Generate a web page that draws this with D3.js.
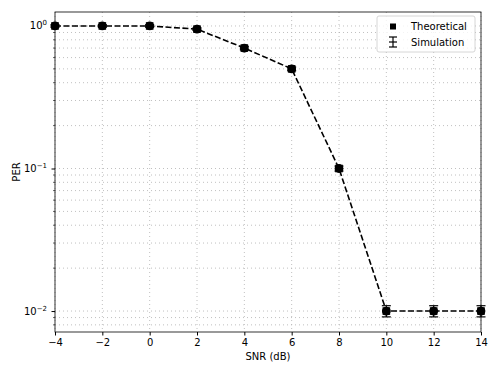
<!DOCTYPE html>
<html>
<head>
<meta charset="utf-8">
<script src="https://cdn.jsdelivr.net/npm/d3@7"></script>
<style>
  body { margin: 0; background: #fff; }
  svg { font-family: "DejaVu Sans", sans-serif; }
</style>
</head>
<body>
<div id="chart"></div>
<script>
// data
var snr = [-4, -2, 0, 2, 4, 6, 8, 10, 12, 14];
var theoretical = [1.0, 1.0, 1.0, 0.95, 0.70, 0.50, 0.10, 0.01, 0.01, 0.01];
var simulation = [1.0, 1.0, 1.0, 0.95, 0.70, 0.50, 0.10, 0.01, 0.01, 0.01];
var simErr = [0.02, 0.02, 0.02, 0.02, 0.02, 0.015, 0.004, 0.0009, 0.0009, 0.0009];
var xTicks = [-4, -2, 0, 2, 4, 6, 8, 10, 12, 14];
var yTicks = [1e-2, 1e-1, 1];
var yExp = { '0.01': '\u22122', '0.1': '\u22121', '1': '0' };

var W = 498, H = 374;
var m = { left: 55, right: 17, top: 12, bottom: 42 };

var svg = d3.select('#chart').append('svg')
    .attr('width', W)
    .attr('height', H);

var x = d3.scaleLinear()
    .domain([-4, 14])
    .range([m.left, W - m.right]);

var y = d3.scaleLog()
    .domain([Math.pow(10, -2.147), Math.pow(10, 0.098)])
    .range([H - m.bottom, m.top]);

// minor ticks for log axis
var minor = [];
[0.01, 0.1, 1].forEach(function (d) {
    for (var k = 2; k <= 9; k++) {
        var v = d * k;
        if (v >= y.domain()[0] && v <= y.domain()[1]) minor.push(v);
    }
});
[0.007, 0.008, 0.009].forEach(function (v) {
    if (v >= y.domain()[0]) minor.push(v);
});

var grid = svg.append('g').attr('stroke', '#b0b0b0').attr('stroke-width', 0.8)
    .attr('stroke-dasharray', '1,3');

grid.selectAll('.gy').data(yTicks.concat(minor)).enter()
    .append('line')
    .attr('x1', m.left).attr('x2', W - m.right)
    .attr('y1', function (d) { return y(d); })
    .attr('y2', function (d) { return y(d); });

grid.selectAll('.gx').data(xTicks).enter()
    .append('line')
    .attr('y1', m.top).attr('y2', H - m.bottom)
    .attr('x1', function (d) { return x(d); })
    .attr('x2', function (d) { return x(d); });

// axes
var xAxis = d3.axisBottom(x)
    .tickValues(xTicks)
    .tickSize(3.5)
    .tickPadding(3.5)
    .tickFormat(function (d) { return d < 0 ? '\u2212' + Math.abs(d) : d; });

svg.append('g')
    .attr('transform', 'translate(0,' + (H - m.bottom) + ')')
    .call(xAxis)
    .call(function (g) {
        g.select('.domain').remove();
        g.selectAll('text').attr('font-size', 10).attr('fill', '#000')
            .attr('font-family', '"DejaVu Sans", sans-serif');
    });

var yAxis = d3.axisLeft(y)
    .tickValues(yTicks)
    .tickSize(3.5)
    .tickPadding(3.5)
    .tickFormat('');

var yg = svg.append('g')
    .attr('transform', 'translate(' + m.left + ',0)')
    .call(yAxis)
    .call(function (g) { g.select('.domain').remove(); });

yg.selectAll('.minor').data(minor).enter()
    .append('line')
    .attr('x1', -2).attr('x2', 0)
    .attr('y1', function (d) { return y(d); })
    .attr('y2', function (d) { return y(d); })
    .attr('stroke', '#000').attr('stroke-width', 0.6);

var lbl = svg.append('g').selectAll('text').data(yTicks).enter()
    .append('text')
    .attr('x', m.left - 8)
    .attr('y', function (d) { return y(d) + 3.5; })
    .attr('text-anchor', 'end')
    .attr('font-size', 10);
lbl.append('tspan').text('10');
lbl.append('tspan').attr('dy', -4).attr('font-size', 7)
    .text(function (d) { return yExp[String(d)]; });

// frame
svg.append('rect')
    .attr('x', m.left).attr('y', m.top)
    .attr('width', W - m.left - m.right)
    .attr('height', H - m.top - m.bottom)
    .attr('fill', 'none')
    .attr('stroke', '#000').attr('stroke-width', 0.8);

// axis labels
svg.append('text')
    .attr('x', (m.left + W - m.right) / 2)
    .attr('y', H - 14)
    .attr('text-anchor', 'middle')
    .attr('font-size', 10)
    .text('SNR (dB)');

svg.append('text')
    .attr('transform', 'translate(20,' + ((m.top + H - m.bottom) / 2) + ') rotate(-90)')
    .attr('text-anchor', 'middle')
    .attr('font-size', 10)
    .text('PER');

// lines
var line = d3.line()
    .x(function (d) { return x(d[0]); })
    .y(function (d) { return y(d[1]); });

var plot = svg.append('g');

plot.append('path')
    .datum(d3.zip(snr, simulation))
    .attr('d', line)
    .attr('fill', 'none')
    .attr('stroke', '#000')
    .attr('stroke-width', 1.6)
    .attr('stroke-dasharray', '6,2.5');

// error bars
var eb = plot.selectAll('.eb').data(d3.range(snr.length)).enter().append('g');
eb.append('line')
    .attr('x1', function (i) { return x(snr[i]); })
    .attr('x2', function (i) { return x(snr[i]); })
    .attr('y1', function (i) { return y(simulation[i] - simErr[i]); })
    .attr('y2', function (i) { return y(Math.min(simulation[i] + simErr[i], y.domain()[1])); })
    .attr('stroke', '#000').attr('stroke-width', 1.2);
[-1, 1].forEach(function (s) {
    eb.append('line')
        .attr('x1', function (i) { return x(snr[i]) - 4.5; })
        .attr('x2', function (i) { return x(snr[i]) + 4.5; })
        .attr('y1', function (i) { return y(simulation[i] + s * simErr[i]); })
        .attr('y2', function (i) { return y(simulation[i] + s * simErr[i]); })
        .attr('stroke', '#000').attr('stroke-width', 1.2);
});

// simulation markers (circles) and theoretical markers (squares)
plot.selectAll('.sim').data(d3.zip(snr, simulation)).enter()
    .append('circle')
    .attr('cx', function (d) { return x(d[0]); })
    .attr('cy', function (d) { return y(d[1]); })
    .attr('r', 4.4)
    .attr('fill', '#000');

plot.selectAll('.theo').data(d3.zip(snr, theoretical)).enter()
    .append('rect')
    .attr('x', function (d) { return x(d[0]) - 3.8; })
    .attr('y', function (d) { return y(d[1]) - 3.8; })
    .attr('width', 7.6).attr('height', 7.6)
    .attr('fill', '#000');

// legend
var lg = svg.append('g').attr('transform', 'translate(377,16)');
lg.append('rect')
    .attr('width', 98).attr('height', 36).attr('rx', 2)
    .attr('fill', '#fff').attr('fill-opacity', 0.8)
    .attr('stroke', '#ccc').attr('stroke-width', 0.8);
lg.append('rect')
    .attr('x', 13).attr('y', 7.5).attr('width', 6).attr('height', 6)
    .attr('fill', '#000');
lg.append('line').attr('x1', 16).attr('x2', 16).attr('y1', 21).attr('y2', 31)
    .attr('stroke', '#000').attr('stroke-width', 1.2);
[21, 26, 31].forEach(function (yy) {
    lg.append('line').attr('x1', 12).attr('x2', 20).attr('y1', yy).attr('y2', yy)
        .attr('stroke', '#000').attr('stroke-width', 1.2);
});
lg.append('text').attr('x', 34).attr('y', 14).attr('font-size', 10).text('Theoretical');
lg.append('text').attr('x', 34).attr('y', 30).attr('font-size', 10).text('Simulation');
</script>
</body>
</html>
